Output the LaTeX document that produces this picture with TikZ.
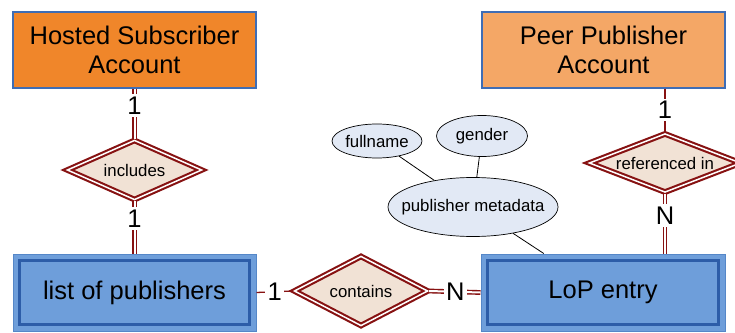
\documentclass[tikz,border=0pt]{standalone}
\usepackage{fontspec}
\setmainfont{Liberation Sans}
\usetikzlibrary{shapes.geometric}

\definecolor{hostorange}{RGB}{240,134,42}
\definecolor{peerorange}{RGB}{244,167,102}
\definecolor{frameblue}{RGB}{62,109,181}
\definecolor{entityblue}{RGB}{110,158,218}
\definecolor{outerblue}{RGB}{85,135,200}
\definecolor{innerblue}{RGB}{45,93,168}
\definecolor{relred}{RGB}{135,18,18}
\definecolor{relfill}{RGB}{241,226,213}
\definecolor{attrfill}{RGB}{226,233,245}

\begin{document}
\begin{tikzpicture}[x=1pt,y=1pt,
  bigtext/.style={font=\fontsize{25.5}{29.5}\selectfont},
  smalltext/.style={font=\fontsize{16.8}{19}\selectfont},
  account/.style={rectangle, draw=frameblue, line width=1.3pt,
    minimum width=243pt, minimum height=76pt, align=center, bigtext, inner sep=0pt},
  weakentity/.style={rectangle, draw=outerblue, line width=1pt, fill=entityblue,
    minimum width=243pt, minimum height=77pt, bigtext, inner sep=0pt,
    path picture={\draw[innerblue, line width=2.4pt]
      ([xshift=6.5pt,yshift=-6.5pt]path picture bounding box.north west) rectangle
      ([xshift=-6.5pt,yshift=6.5pt]path picture bounding box.south east);}},
  relation/.style={diamond, draw=relred, double=white, line width=2.1pt,
    double distance=1.5pt, fill=relfill, smalltext, inner sep=0pt},
  attribute/.style={ellipse, draw=black, line width=0.7pt, fill=attrfill,
    smalltext, inner sep=0pt},
  total/.style={draw=relred, double=white, line width=1.4pt, double distance=2pt},
  partial/.style={draw=relred, line width=1.3pt},
  card/.style={fill=white, bigtext, inner sep=2.5pt},
  attrlink/.style={draw=black, line width=0.8pt}
]
\useasboundingbox (0,0) rectangle (735,332);
\fill[white] (0,0) rectangle (735,332);

% entities
\node[account, fill=hostorange] (hsa) at (134.5,282) {Hosted Subscriber\\Account};
\node[account, fill=peerorange] (ppa) at (603.5,282) {Peer Publisher\\Account};
\node[weakentity] (lists) at (134.5,39.5) {list of publishers};
\node[weakentity, minimum width=244pt] (entry) at (603,39.5) {LoP entry};

% relationships
\node[relation, aspect=2.25, minimum width=135pt, minimum height=60pt] (incl) at (134.5,162) {includes};
\node[relation, aspect=2.58, minimum width=152pt, minimum height=59pt] (refin) at (665,169) {referenced in};
\node[relation, aspect=1.9, minimum width=134pt, minimum height=70pt] (cont) at (361,41) {contains};

% attributes
\node[attribute, minimum width=90pt, minimum height=34pt] (fullname) at (377,191) {fullname};
\node[attribute, minimum width=91pt, minimum height=41pt] (gender) at (482,196) {gender};
\node[attribute, inner xsep=-14pt, minimum width=170pt, minimum height=59pt] (meta) at (473,125) {publisher metadata};

% connectors with cardinalities
\draw[total] (hsa.south) -- node[card, pos=0.33] {1} (incl.north);
\draw[total] (incl.south) -- node[card, pos=0.33] {1} (lists.north);
\draw[partial] (ppa.south -| refin.north) -- node[card, pos=0.49] {1} (refin.north);
\draw[total] (refin.south) -- node[card, pos=0.37] {N} (entry.north -| refin.south);
\draw[partial] (lists.east) -- node[card, pos=0.5] {1} (cont.west);
\draw[total] (cont.east) -- node[card, pos=0.51] {N} (entry.west);

% attribute links
\draw[attrlink] (fullname) -- (meta);
\draw[attrlink] (gender) -- (meta);
\draw[attrlink] (meta) -- (entry);
\end{tikzpicture}
\end{document}
